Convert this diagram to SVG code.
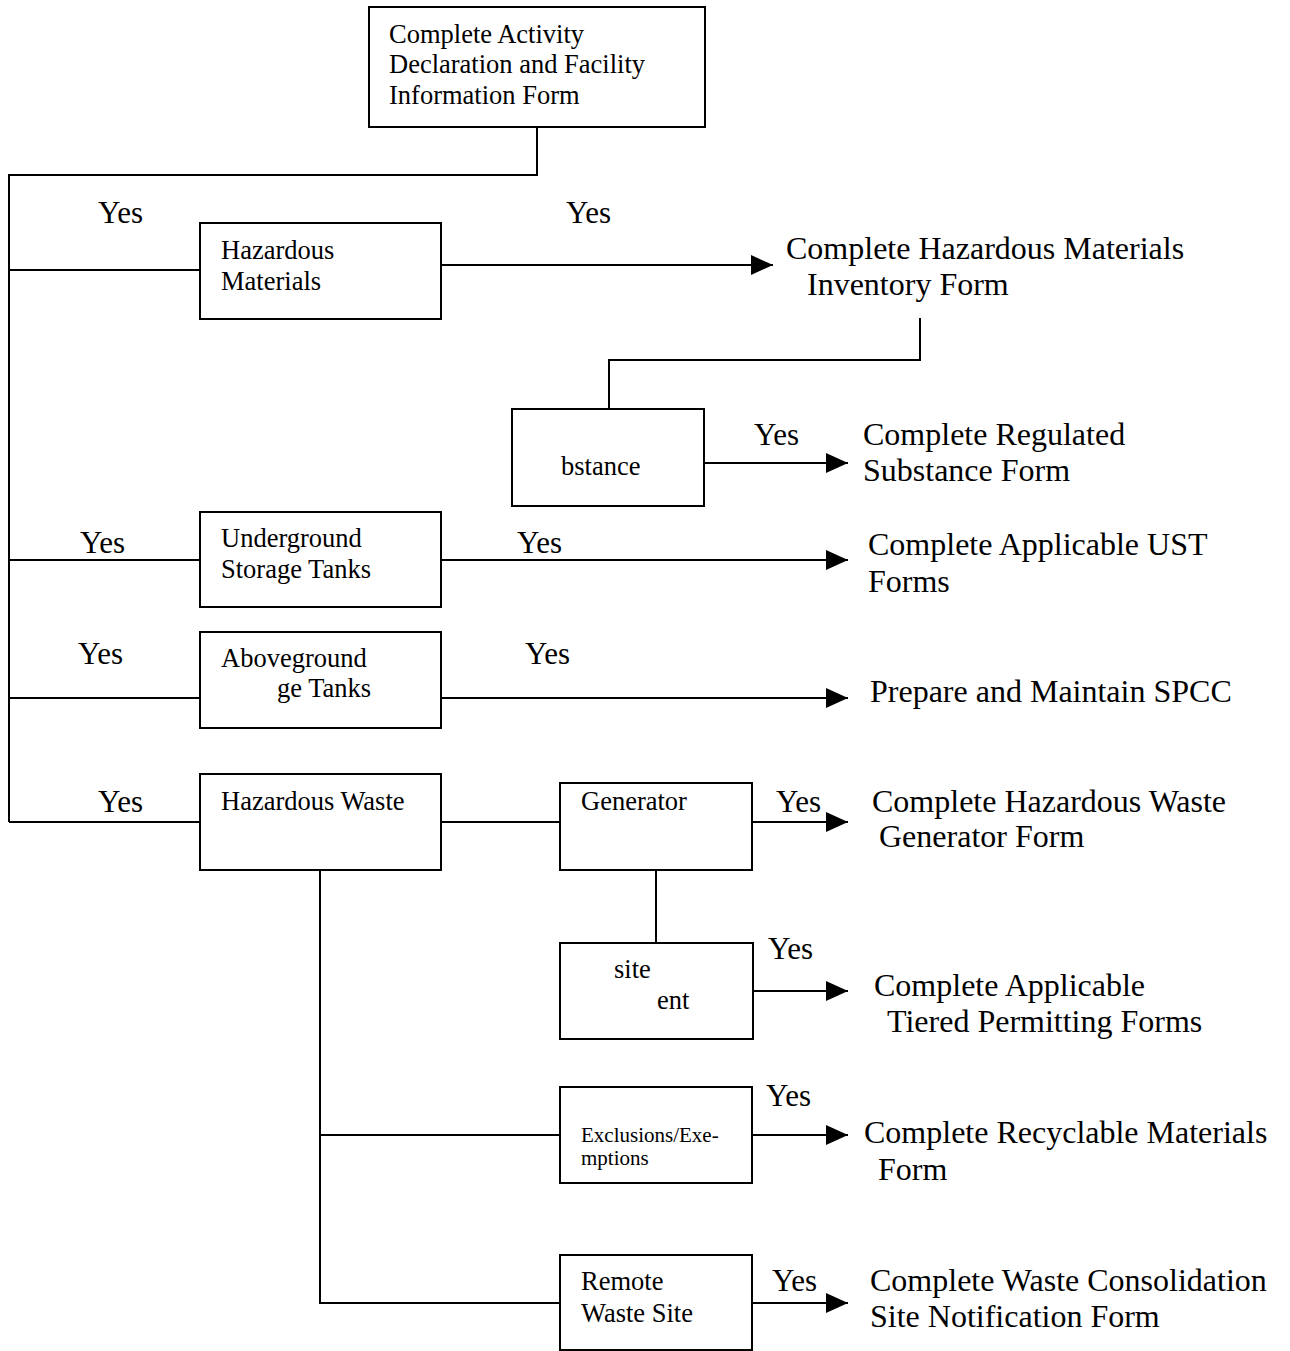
<svg xmlns="http://www.w3.org/2000/svg" width="1290" height="1351" viewBox="0 0 1290 1351">
<style>
.box{fill:#fff;stroke:#000;stroke-width:2}
.ln{fill:none;stroke:#000;stroke-width:2}
.t{font-family:"Liberation Serif","Times New Roman",serif;fill:#000}
.s{font-size:26.5px}
.b{font-size:32px}
.y{font-size:31px}
.x{font-size:21px}
</style>
<defs>
<marker id="ah" markerWidth="11" markerHeight="10" refX="11" refY="5" orient="auto" markerUnits="strokeWidth">
<path d="M0,0 L11,5 L0,10 Z" fill="#000"/>
</marker>
</defs>
<rect width="1290" height="1351" fill="#fff"/>
<g id="connectors">
<path class="ln" d="M537,127 V175 H9 V822"/>
<path class="ln" d="M9,270 H200"/>
<path class="ln" d="M9,560 H200"/>
<path class="ln" d="M9,698 H200"/>
<path class="ln" d="M9,822 H200"/>
<path class="ln" d="M441,265 H773" marker-end="url(#ah)"/>
<path class="ln" d="M920,318 V360 H609 V409"/>
<path class="ln" d="M704,463 H848" marker-end="url(#ah)"/>
<path class="ln" d="M441,560 H848" marker-end="url(#ah)"/>
<path class="ln" d="M441,698 H848" marker-end="url(#ah)"/>
<path class="ln" d="M441,822 H560"/>
<path class="ln" d="M752,822 H848" marker-end="url(#ah)"/>
<path class="ln" d="M656,870 V943"/>
<path class="ln" d="M753,991 H848" marker-end="url(#ah)"/>
<path class="ln" d="M320,870 V1303 H560"/>
<path class="ln" d="M320,1135 H560"/>
<path class="ln" d="M752,1135 H848" marker-end="url(#ah)"/>
<path class="ln" d="M752,1303 H848" marker-end="url(#ah)"/>
</g>
<g id="labels">
<text class="t y" x="98" y="223">Yes</text>
<text class="t y" x="566" y="223">Yes</text>
<text class="t y" x="754" y="445">Yes</text>
<text class="t y" x="80" y="553">Yes</text>
<text class="t y" x="517" y="553">Yes</text>
<text class="t y" x="78" y="664">Yes</text>
<text class="t y" x="525" y="664">Yes</text>
<text class="t y" x="98" y="812">Yes</text>
<text class="t y" x="776" y="812">Yes</text>
<text class="t y" x="768" y="959">Yes</text>
<text class="t y" x="766" y="1106">Yes</text>
<text class="t y" x="772" y="1291">Yes</text>
</g>
<g id="n-activity">
<rect class="box" x="369" y="7" width="336" height="120"/>
<text class="t s" x="389" y="43">Complete Activity</text>
<text class="t s" x="389" y="73">Declaration and Facility</text>
<text class="t s" x="389" y="104">Information Form</text>
</g>
<g id="n-hazmat">
<rect class="box" x="200" y="223" width="241" height="96"/>
<text class="t s" x="221" y="259">Hazardous</text>
<text class="t s" x="221" y="290">Materials</text>
</g>
<g id="n-hmi-form">
<text class="t b" x="786" y="259">Complete Hazardous Materials</text>
<text class="t b" x="807" y="295">Inventory Form</text>
</g>
<g id="n-substance">
<rect class="box" x="512" y="409" width="192" height="97"/>
<text class="t s" x="561" y="475">bstance</text>
</g>
<g id="n-rs-form">
<text class="t b" x="863" y="445">Complete Regulated</text>
<text class="t b" x="863" y="481">Substance Form</text>
</g>
<g id="n-ust">
<rect class="box" x="200" y="512" width="241" height="95"/>
<text class="t s" x="221" y="547">Underground</text>
<text class="t s" x="221" y="578">Storage Tanks</text>
</g>
<g id="n-ust-form">
<text class="t b" x="868" y="555">Complete Applicable UST</text>
<text class="t b" x="868" y="592">Forms</text>
</g>
<g id="n-ast">
<rect class="box" x="200" y="632" width="241" height="96"/>
<text class="t s" x="221" y="667">Aboveground</text>
<text class="t s" x="277" y="697">ge Tanks</text>
</g>
<g id="n-spcc">
<text class="t b" x="870" y="702">Prepare and Maintain SPCC</text>
</g>
<g id="n-hw">
<rect class="box" x="200" y="774" width="241" height="96"/>
<text class="t s" x="221" y="810">Hazardous Waste</text>
</g>
<g id="n-gen">
<rect class="box" x="560" y="783" width="192" height="87"/>
<text class="t s" x="581" y="810">Generator</text>
</g>
<g id="n-hwg-form">
<text class="t b" x="872" y="812">Complete Hazardous Waste</text>
<text class="t b" x="879" y="847">Generator Form</text>
</g>
<g id="n-onsite">
<rect class="box" x="560" y="943" width="193" height="96"/>
<text class="t s" x="614" y="978">site</text>
<text class="t s" x="657" y="1009">ent</text>
</g>
<g id="n-tp-form">
<text class="t b" x="874" y="996">Complete Applicable</text>
<text class="t b" x="887" y="1032">Tiered Permitting Forms</text>
</g>
<g id="n-excl">
<rect class="box" x="560" y="1087" width="192" height="96"/>
<text class="t x" x="581" y="1142">Exclusions/Exe-</text>
<text class="t x" x="581" y="1165">mptions</text>
</g>
<g id="n-rm-form">
<text class="t b" x="864" y="1143">Complete Recyclable Materials</text>
<text class="t b" x="878" y="1180">Form</text>
</g>
<g id="n-remote">
<rect class="box" x="560" y="1255" width="192" height="95"/>
<text class="t s" x="581" y="1290">Remote</text>
<text class="t s" x="581" y="1322">Waste Site</text>
</g>
<g id="n-wcs-form">
<text class="t b" x="870" y="1291">Complete Waste Consolidation</text>
<text class="t b" x="870" y="1327">Site Notification Form</text>
</g>
</svg>
